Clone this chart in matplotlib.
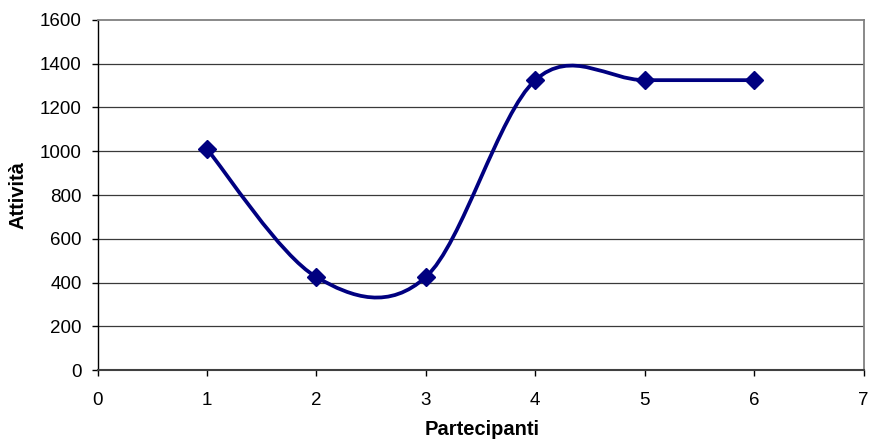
import numpy as np
import matplotlib.pyplot as plt
from matplotlib.path import Path
from matplotlib.patches import PathPatch

plt.rcParams['font.family'] = ['Liberation Sans', 'DejaVu Sans']

partecipanti = [1, 2, 3, 4, 5, 6]
attivita = [1010, 425, 425, 1325, 1325, 1325]
x_ticks = [0, 1, 2, 3, 4, 5, 6, 7]
y_ticks = [0, 200, 400, 600, 800, 1000, 1200, 1400, 1600]

NAVY = '#000080'

fig = plt.figure(figsize=(8.72, 4.44), dpi=100)
W, H = 872, 444
ax = fig.add_axes([97.5 / W, (H - 370) / H, (863.5 - 97.5) / W, 350 / H])

# smoothed line: cubic bezier segments with catmull-rom style control points
pts = np.column_stack([partecipanti, attivita]).astype(float)
ext = np.vstack([pts[0], pts, pts[-1]])
verts = [tuple(pts[0])]
codes = [Path.MOVETO]
for i in range(len(pts) - 1):
    p0, p1, p2, p3 = ext[i], ext[i + 1], ext[i + 2], ext[i + 3]
    c1 = p1 + (p2 - p0) / 6.0
    c2 = p2 - (p3 - p1) / 6.0
    verts += [tuple(c1), tuple(c2), tuple(p2)]
    codes += [Path.CURVE4] * 3
curve = PathPatch(Path(verts, codes), facecolor='none', edgecolor=NAVY,
                  lw=2.7, capstyle='round', joinstyle='round', zorder=3)
ax.add_patch(curve)
ax.plot(partecipanti, attivita, linestyle='none', marker='D', markersize=9.5,
        color=NAVY, zorder=4)

ax.set_xlim(0, 7)
ax.set_ylim(0, 1600)
ax.set_xticks(x_ticks)
ax.set_yticks(y_ticks)

for y in y_ticks[1:-1]:
    ax.axhline(y, color='#3a3a3a', lw=0.9, zorder=1)

ax.spines['top'].set_color('#808080')
ax.spines['right'].set_color('#808080')
ax.spines['top'].set_linewidth(1.3)
ax.spines['right'].set_linewidth(1.3)
ax.spines['left'].set_color('black')
ax.spines['left'].set_linewidth(1.0)
ax.spines['bottom'].set_color('#404040')
ax.spines['bottom'].set_linewidth(1.5)

ax.tick_params(axis='both', direction='out', length=4.5, width=1.0,
               colors='black', labelsize=13.5)
ax.tick_params(axis='y', pad=7)
ax.tick_params(axis='x', pad=11)

fig.text(18.5 / W, 1 - 195 / H, 'Attività', rotation=90, fontsize=14.5,
         fontweight='bold', ha='center', va='center')
fig.text(482 / W, 1 - 429 / H, 'Partecipanti', fontsize=14.5,
         fontweight='bold', ha='center', va='center')

fig.savefig('out.png', dpi=100)
